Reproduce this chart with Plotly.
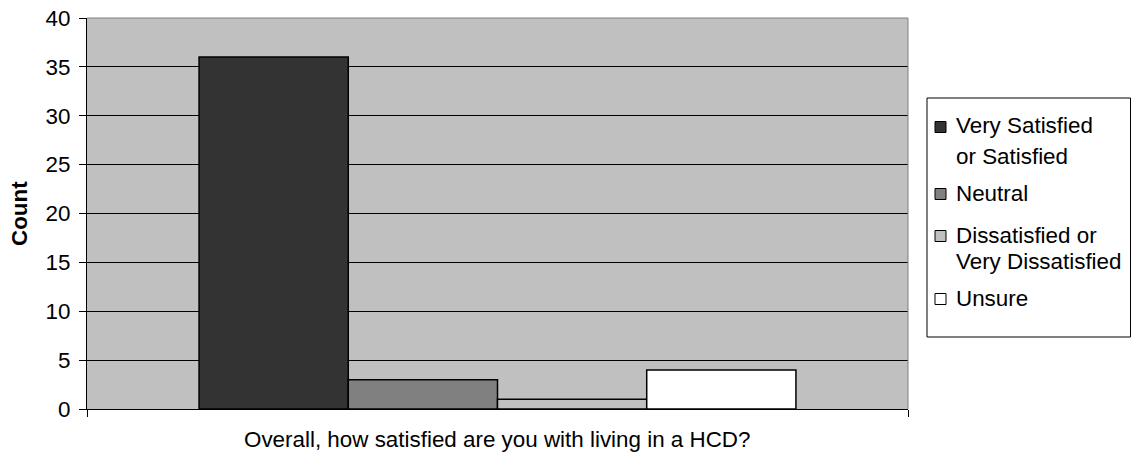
import plotly.graph_objects as go

series_names = ["Very Satisfied<br>or Satisfied", "Neutral", "Dissatisfied or<br>Very Dissatisfied", "Unsure"]
counts = [36, 3, 1, 4]
colors = ["#333333", "#808080", "#C0C0C0", "#FFFFFF"]
y_ticks = [0, 5, 10, 15, 20, 25, 30, 35, 40]
x_title = "Overall, how satisfied are you with living in a HCD?"
y_title = "Count"

FONT = "Liberation Sans, Arial, sans-serif"
FS = 22.4

# plot area at px 87..908 x 18..409 in the 1132x458 window
PL, PR, PT, PB = 87, 908, 18, 409


def px(x):
    return (x - PL) / (PR - PL)


def py(y):
    return (PB - y) / (PB - PT)


fig = go.Figure()
for name, val, col in zip(series_names, counts, colors):
    fig.add_trace(go.Bar(
        x=[0], y=[val], name=name,
        marker=dict(color=col, line=dict(color="#000000", width=1.5)),
    ))

# manual legend (box, swatches, labels)
shapes = [
    dict(type="line", xref="paper", yref="paper", x0=0, x1=1, y0=1, y1=1,
         line=dict(color="#808080", width=1)),
    dict(type="line", xref="paper", yref="paper", x0=1, x1=1, y0=0, y1=1,
         line=dict(color="#808080", width=1)),
    dict(type="rect", xref="paper", yref="paper", x0=px(927), x1=px(1130.5),
         y0=py(337), y1=py(98), line=dict(color="black", width=1), fillcolor="white"),
]
annotations = [
    dict(text=x_title, xref="paper", yref="paper", x=0.5, y=0,
         xanchor="center", yanchor="middle", yshift=-30, showarrow=False,
         font=dict(family=FONT, size=FS, color="black")),
    dict(text="<b>" + y_title + "</b>", xref="paper", yref="paper", x=0, y=0.5,
         xanchor="center", yanchor="middle", xshift=-67.5, textangle=-90,
         showarrow=False, font=dict(family=FONT, size=FS, color="black")),
]

line_centers = [[126, 156], [193], [235, 261], [298]]
for name, col, lines in zip(series_names, colors, line_centers):
    sy = lines[0] + 1
    shapes.append(dict(type="rect", xref="paper", yref="paper",
                       x0=px(935), x1=px(946), y0=py(sy + 5.5), y1=py(sy - 5.5),
                       line=dict(color="black", width=1), fillcolor=col))
    for part, ly in zip(name.split("<br>"), lines):
        annotations.append(dict(text=part, xref="paper", yref="paper",
                                x=px(954), y=py(ly), xanchor="left", yanchor="middle",
                                showarrow=False,
                                font=dict(family=FONT, size=FS, color="black")))

fig.update_layout(
    width=1132, height=458,
    margin=dict(l=PL, r=1132 - PR, t=PT, b=458 - PB, pad=0, autoexpand=False),
    paper_bgcolor="white",
    plot_bgcolor="#C0C0C0",
    barmode="group",
    bargap=0.273,
    bargroupgap=0,
    font=dict(family=FONT, size=FS, color="black"),
    showlegend=False,
    hovermode=False,
    xaxis=dict(
        range=[-0.5, 0.5], tickvals=[-0.5, 0.5], ticktext=["", ""],
        ticks="outside", ticklen=7, tickcolor="black", automargin=False,
        showline=True, linecolor="black", linewidth=1,
        showgrid=False, zeroline=False, fixedrange=True,
    ),
    yaxis=dict(
        range=[0, 40], tickvals=y_ticks, automargin=False, fixedrange=True,
        ticks="outside", ticklen=7, tickcolor="black",
        showline=True, linecolor="black", linewidth=1,
        showgrid=True, gridcolor="black", gridwidth=1,
        zeroline=False, ticklabelstandoff=4, ticklabeloverflow="allow",
        tickfont=dict(family=FONT, size=FS, color="black"),
    ),
    shapes=shapes,
    annotations=annotations,
)

fig.write_html(
    "out.html",
    config={"displayModeBar": False, "staticPlot": True},
    post_script="document.body.style.margin='0';document.body.style.overflow='hidden';",
)
